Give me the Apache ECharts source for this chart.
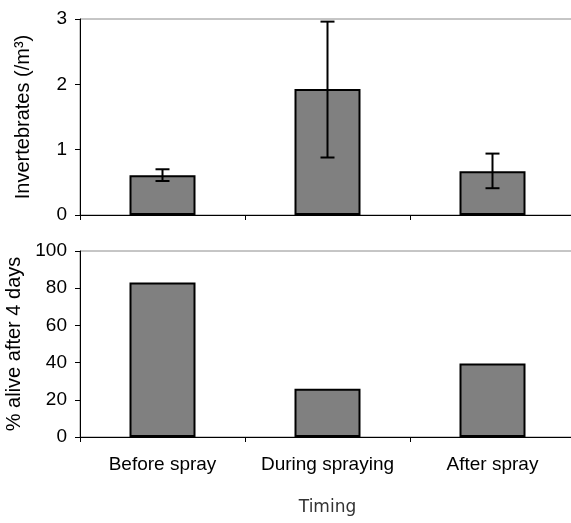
<!DOCTYPE html>
<html>
<head>
<meta charset="utf-8">
<script src="https://cdn.jsdelivr.net/npm/echarts@6/dist/echarts.min.js"></script>
<style>
  html, body { margin: 0; padding: 0; background: #fff; }
  #chart { width: 571px; height: 523px; }
</style>
</head>
<body>
<div id="chart"></div>
<script>
var categories = ['Before spray', 'During spraying', 'After spray'];
var invertebrates = [0.61, 1.93, 0.67];
var errLow = [0.52, 0.88, 0.41];
var errHigh = [0.70, 2.96, 0.94];
var aliveAfter4Days = [83, 26, 39.5];

var FONT = '"Liberation Sans", Arial, sans-serif';

function yAxisCommon(name, max, interval) {
    return {
        type: 'value',
        min: 0,
        max: max,
        interval: interval,
        name: name,
        nameLocation: 'middle',
        nameGap: 47,
        nameTextStyle: { color: '#000', fontFamily: FONT, fontSize: 20 },
        axisLine: { show: true, lineStyle: { color: '#000', width: 1 } },
        axisTick: { show: true, length: 5, lineStyle: { color: '#000' } },
        axisLabel: { color: '#000', fontFamily: FONT, fontSize: 19, margin: 13 },
        splitLine: { show: false }
    };
}

function errorBarItem(params, api) {
    var x = api.value(0);
    var lo = api.coord([x, api.value(1)]);
    var hi = api.coord([x, api.value(2)]);
    var half = 7;
    var style = { stroke: '#000', lineWidth: 2 };
    return {
        type: 'group',
        children: [
            { type: 'line', shape: { x1: lo[0], y1: lo[1], x2: hi[0], y2: hi[1] }, style: style },
            { type: 'line', shape: { x1: lo[0] - half, y1: lo[1], x2: lo[0] + half, y2: lo[1] }, style: style },
            { type: 'line', shape: { x1: hi[0] - half, y1: hi[1], x2: hi[0] + half, y2: hi[1] }, style: style }
        ]
    };
}

var errData = [];
for (var i = 0; i < categories.length; i++) {
    errData.push([i, errLow[i], errHigh[i]]);
}

var barStyle = { color: '#808080', borderColor: '#000', borderWidth: 2 };

var myChart = echarts.init(document.getElementById('chart'));
var option = {
    backgroundColor: '#fff',
    animation: false,
    grid: [
        { left: 80, top: 19, width: 495, height: 196, outerBoundsMode: 'none', show: true, borderColor: '#8c8c8c', borderWidth: 1, backgroundColor: 'transparent' },
        { left: 80, top: 251, width: 495, height: 186, outerBoundsMode: 'none', show: true, borderColor: '#8c8c8c', borderWidth: 1, backgroundColor: 'transparent' }
    ],
    xAxis: [
        {
            type: 'category', gridIndex: 0, data: categories,
            axisLine: { lineStyle: { color: '#000' } },
            axisTick: { show: true, length: 5, lineStyle: { color: '#000' } },
            axisLabel: { show: false }
        },
        {
            type: 'category', gridIndex: 1, data: categories,
            name: 'Timing', nameLocation: 'middle', nameGap: 62,
            nameTextStyle: { color: '#333', fontFamily: '"DejaVu Sans", sans-serif', fontSize: 17 },
            axisLine: { lineStyle: { color: '#000' } },
            axisTick: { show: true, length: 5, lineStyle: { color: '#000' } },
            axisLabel: { color: '#000', fontFamily: FONT, fontSize: 19, margin: 18, interval: 0 }
        }
    ],
    yAxis: [
        Object.assign({ gridIndex: 0 }, yAxisCommon('Invertebrates (/m\u00b3)', 3, 1)),
        Object.assign({ gridIndex: 1 }, yAxisCommon('% alive after 4 days', 100, 20))
    ],
    series: [
        {
            type: 'bar', xAxisIndex: 0, yAxisIndex: 0, data: invertebrates,
            barWidth: '40%', itemStyle: barStyle
        },
        {
            type: 'custom', xAxisIndex: 0, yAxisIndex: 0, data: errData,
            renderItem: errorBarItem, z: 10
        },
        {
            type: 'bar', xAxisIndex: 1, yAxisIndex: 1, data: aliveAfter4Days,
            barWidth: '40%', itemStyle: barStyle
        }
    ]
};
if (option && typeof option === "object") {
    myChart.setOption(option, true);
}
</script>
</body>
</html>
